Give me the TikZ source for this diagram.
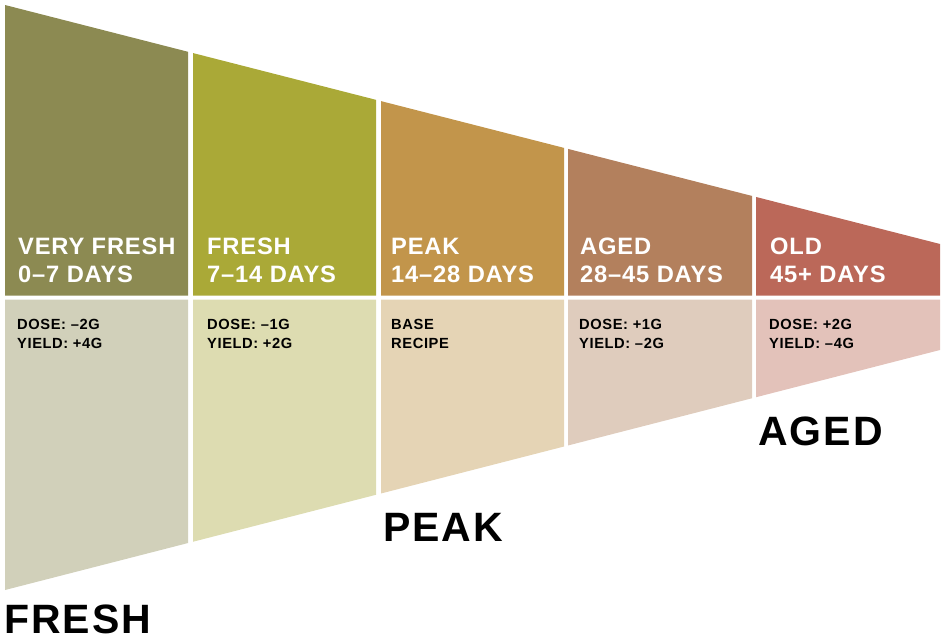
\documentclass[tikz,border=0pt]{standalone}
\usepackage{fontspec}
\newfontfamily\whitefont{Liberation Sans}[LetterSpace=3.5]
\newfontfamily\smallfont{Liberation Sans}[LetterSpace=4]
\newfontfamily\bigfont{Liberation Sans}[LetterSpace=5]
\definecolor{topA}{HTML}{8C8A52}
\definecolor{topB}{HTML}{AAA937}
\definecolor{topC}{HTML}{C2954B}
\definecolor{topD}{HTML}{B3805D}
\definecolor{topE}{HTML}{BB6859}
\definecolor{botA}{HTML}{D1D0BA}
\definecolor{botB}{HTML}{DDDCB1}
\definecolor{botC}{HTML}{E5D4B5}
\definecolor{botD}{HTML}{DFCCBD}
\definecolor{botE}{HTML}{E3C2BA}
\tikzset{
  head/.style={anchor=base west, inner sep=0pt, text=white, font=\whitefont\bfseries\fontsize{23.7}{28}\selectfont},
  note/.style={anchor=base west, inner sep=0pt, text=black, font=\smallfont\bfseries\fontsize{14.7}{19}\selectfont},
  biglabel/.style={anchor=base west, inner sep=0pt, text=black, font=\bigfont\bfseries\fontsize{41}{41}\selectfont}
}
\begin{document}
\begin{tikzpicture}[x=1pt,y=-1pt]
\useasboundingbox (0,0) rectangle (944,641);
\foreach \a/\b/\ct/\cb in {5/188/topA/botA, 193/376/topB/botB, 381/564/topC/botC, 568/752/topD/botD, 756/940/topE/botE}{
  \fill[\ct] (\a,{5+0.2556*(\a-5)}) -- (\b,{5+0.2556*(\b-5)}) -- (\b,295.5) -- (\a,295.5) -- cycle;
  \fill[\cb] (\a,299.5) -- (\b,299.5) -- (\b,{590-0.2567*(\b-5)}) -- (\a,{590-0.2567*(\a-5)}) -- cycle;
}
% headings
\node[head] (h1a) at (18,254) {VERY FRESH};
\node[head] (h1b) at (18,282) {0–7 DAYS};
\node[head] (h2a) at (207,254) {FRESH};
\node[head] (h2b) at (207,282) {7–14 DAYS};
\node[head] (h3a) at (391,254) {PEAK};
\node[head] (h3b) at (391,282) {14–28 DAYS};
\node[head] (h4a) at (580,254) {AGED};
\node[head] (h4b) at (580,282) {28–45 DAYS};
\node[head] (h5a) at (770,254) {OLD};
\node[head] (h5b) at (770,282) {45+ DAYS};
% notes
\node[note] (n1a) at (17,329) {DOSE: –2G};
\node[note] (n1b) at (17,348) {YIELD: +4G};
\node[note] (n2a) at (207,329) {DOSE: –1G};
\node[note] (n2b) at (207,348) {YIELD: +2G};
\node[note] (n3a) at (391,329) {BASE};
\node[note] (n3b) at (391,348) {RECIPE};
\node[note] (n4a) at (579,329) {DOSE: +1G};
\node[note] (n4b) at (579,348) {YIELD: –2G};
\node[note] (n5a) at (769,329) {DOSE: +2G};
\node[note] (n5b) at (769,348) {YIELD: –4G};
% big labels
\node[biglabel] (fresh) at (4,633) {FRESH};
\node[biglabel] (peak) at (383,541) {PEAK};
\node[biglabel] (aged) at (758,445) {AGED};
\end{tikzpicture}
\end{document}
